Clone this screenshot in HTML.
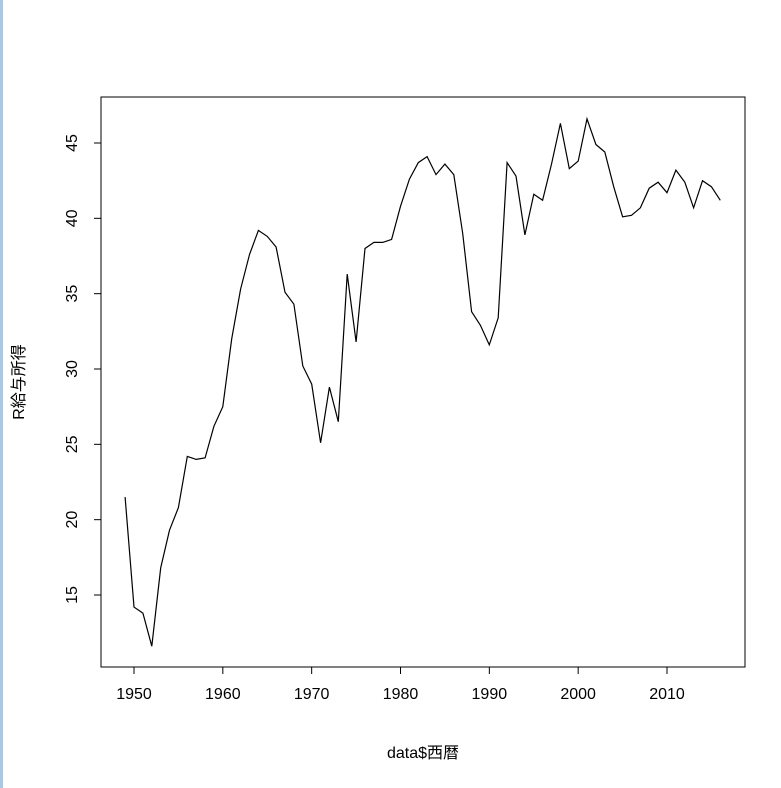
<!DOCTYPE html>
<html><head><meta charset="utf-8"><style>
body{margin:0;background:#fff}
svg{display:block;font-family:"Liberation Sans","Noto Sans CJK JP",sans-serif}
</style></head><body>
<svg width="781" height="788">
<rect x="0" y="0" width="3" height="788" fill="#a8c8e8"/>
<rect x="101" y="97" width="644" height="570" fill="none" stroke="#000" stroke-width="1"/>
<g id="xt"></g>
<g id="yt"></g>
<path id="ln" fill="none" stroke="#000" stroke-width="1.2"/>
<text x="423" y="758" font-size="16" text-anchor="middle">data$西暦</text>
<text transform="translate(24,382) rotate(-90)" font-size="16" text-anchor="middle">R給与所得</text>
</svg>
<script>
const years=[];for(let y=1949;y<=2016;y++)years.push(y);
const values=[21.5,14.2,13.8,11.6,16.8,19.3,20.8,24.2,24.0,24.1,26.2,27.5,32.0,35.3,37.6,39.2,38.8,38.1,35.1,34.3,30.2,29.0,25.1,28.8,26.5,36.3,31.8,38.0,38.4,38.4,38.6,40.8,42.6,43.7,44.1,42.9,43.6,42.9,39.0,33.8,32.9,31.6,33.4,43.7,42.8,38.9,41.6,41.2,43.6,46.3,43.3,43.8,46.6,44.9,44.4,42.1,40.1,40.2,40.7,42.0,42.4,41.7,43.2,42.4,40.7,42.5,42.1,41.2];
const xTicks=[1950,1960,1970,1980,1990,2000,2010];
const yTicks=[15,20,25,30,35,40,45];
const sx=v=>134+(v-1950)*(667-134)/60;
const sy=v=>595-(v-15)*(595-143)/30;
const NS="http://www.w3.org/2000/svg";
const xt=document.getElementById('xt'),yt=document.getElementById('yt');
let d='M'+xTicks.map(t=>sx(t)+' 667').join(' L').replace(/ L/g,' L');
const ax=document.createElementNS(NS,'line');
ax.setAttribute('x1',sx(xTicks[0]));ax.setAttribute('x2',sx(xTicks[xTicks.length-1]));ax.setAttribute('y1',667);ax.setAttribute('y2',667);ax.setAttribute('stroke','#000');


xt.appendChild(ax);
xTicks.forEach(t=>{
const l=document.createElementNS(NS,'line');
l.setAttribute('x1',sx(t));l.setAttribute('x2',sx(t));l.setAttribute('y1',667);l.setAttribute('y2',674);l.setAttribute('stroke','#000');


xt.appendChild(l);
const tx=document.createElementNS(NS,'text');
tx.setAttribute('x',sx(t));tx.setAttribute('y',699);tx.setAttribute('font-size','16');tx.setAttribute('text-anchor','middle');tx.textContent=t;


xt.appendChild(tx);
});
const ay=document.createElementNS(NS,'line');
ay.setAttribute('x1',101);ay.setAttribute('x2',101);ay.setAttribute('y1',sy(yTicks[0]));ay.setAttribute('y2',sy(yTicks[yTicks.length-1]));ay.setAttribute('stroke','#000');


yt.appendChild(ay);
yTicks.forEach(t=>{
const l=document.createElementNS(NS,'line');
l.setAttribute('x1',94);l.setAttribute('x2',101);l.setAttribute('y1',sy(t));l.setAttribute('y2',sy(t));l.setAttribute('stroke','#000');


yt.appendChild(l);
const tx=document.createElementNS(NS,'text');
tx.setAttribute('transform','translate(77,'+sy(t)+') rotate(-90)');tx.setAttribute('font-size','16');tx.setAttribute('text-anchor','middle');tx.textContent=t;


yt.appendChild(tx);
});
document.getElementById('ln').setAttribute('d',values.map((v,i)=>(i?'L':'M')+sx(years[i]).toFixed(1)+' '+sy(v).toFixed(1)).join(' '));
</script>
</body></html>
